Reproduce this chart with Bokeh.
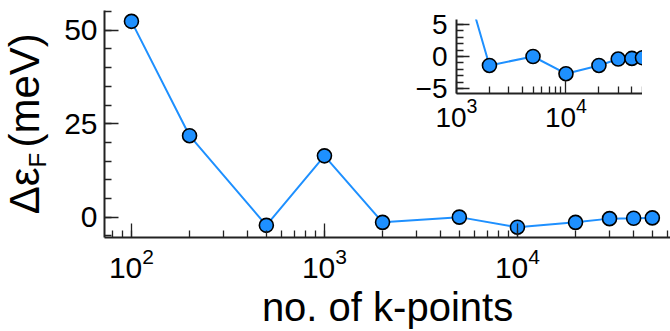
import math
from bokeh.plotting import figure
from bokeh.models import (LogTicker, SingleIntervalTicker, FixedTicker,
                          Range1d, LogTickFormatter)
from bokeh.core.properties import value
from bokeh.layouts import column
from bokeh.embed import file_html
from bokeh.resources import INLINE

# ---- data ----
kpoints = [100, 200, 500, 1000, 2000, 5000, 10000, 20000, 30000, 40000, 50000]
delta_ef = [52.4, 21.8, -2.2, 16.4, -1.4, 0.0, -2.7, -1.4, -0.4, -0.3, -0.2]
main_yticks_interval = 25
inset_yticks_interval = 5
inset_xticks = [1000, 10000]
inset_xminor = [2000, 3000, 4000, 5000, 6000, 7000, 8000, 9000,
                20000, 30000, 40000, 50000]
xlabel = "no. of k-points"
ylabel_main = "Δε"
ylabel_sub = "F"
ylabel_unit = "(meV)"

BLUE = "#1e90ff"
AXC = "#222222"
FONT = "Liberation Sans"
LEFT = 104   # common left border (frames are aligned in the column)


def style_axes(p, tick_size, major_in=14, minor_in=7):
    p.outline_line_color = None
    p.xgrid.grid_line_color = None
    p.ygrid.grid_line_color = None
    for ax in (p.xaxis[0], p.yaxis[0]):
        ax.axis_line_color = AXC
        ax.axis_line_width = 2
        ax.major_tick_line_color = AXC
        ax.minor_tick_line_color = AXC
        ax.major_tick_line_width = 1.3
        ax.minor_tick_line_width = 1.3
        ax.major_tick_in = major_in
        ax.major_tick_out = 0
        ax.minor_tick_in = minor_in
        ax.minor_tick_out = 0
        ax.major_label_text_font = FONT
        ax.major_label_text_font_size = tick_size
        ax.major_label_text_color = "black"
        ax.axis_label_text_font = FONT
        ax.axis_label_text_font_style = "normal"
        ax.axis_label_text_color = "black"


def draw(p):
    p.line(kpoints, delta_ef, line_color=BLUE, line_width=2)
    p.scatter(kpoints, delta_ef, size=14, fill_color=BLUE,
              line_color="black", line_width=1.6)


# ---- main plot ----
p = figure(width=670, height=331, x_axis_type="log",
           x_range=Range1d(72.5, 62100), y_range=Range1d(-5.45, 55.3),
           min_border_left=LEFT, min_border_right=0, min_border_top=10,
           min_border_bottom=93, output_backend="svg", toolbar_location=None)
style_axes(p, "30px")
p.xaxis.ticker = LogTicker(num_minor_ticks=10)
p.yaxis.ticker = SingleIntervalTicker(interval=main_yticks_interval, num_minor_ticks=5)
p.xaxis.axis_label = xlabel
p.xaxis.axis_label_text_font_size = "40px"
p.xaxis.axis_label_standoff = 4
p.xaxis.major_label_standoff = 10
p.yaxis.major_label_standoff = 7
draw(p)

# ---- overlay holding the y-axis label (frame covers canvas x 0..60) ----
lab = figure(width=LEFT + 60, height=331, x_range=Range1d(0, 60),
             y_range=Range1d(0, 331), min_border_left=LEFT, min_border_right=0,
             min_border_top=0, min_border_bottom=0, x_axis_location=None,
             y_axis_location=None, output_backend="svg", toolbar_location=None,
             margin=(-331, 0, 0, -LEFT))
lab.outline_line_color = None
lab.xgrid.grid_line_color = None
lab.ygrid.grid_line_color = None
lab.background_fill_alpha = 0
lab.border_fill_alpha = 0
common = dict(angle=math.pi / 2, text_font=value(FONT),
              text_baseline="alphabetic", text_color="black")
lab.text(x=[24], y=[164], text=[ylabel_main], text_align="right",
         text_font_size="42px", **common)
lab.text(x=[37], y=[164], text=[ylabel_sub], text_align="left",
         text_font_size="24px", **common)
lab.text(x=[24], y=[184], text=[ylabel_unit], text_align="left",
         text_font_size="42px", **common)

# ---- inset ----
ins = figure(width=LEFT + 186, height=143, x_axis_type="log",
             x_range=Range1d(1000, 50000), y_range=Range1d(-5.8, 5.8),
             min_border_left=LEFT, min_border_right=0, min_border_top=19,
             min_border_bottom=50, output_backend="svg", toolbar_location=None,
             margin=(-331, 0, 0, 456 - LEFT))
style_axes(ins, "28px", major_in=13, minor_in=7)
ins.background_fill_alpha = 0
ins.border_fill_alpha = 0
ins.xaxis.ticker = FixedTicker(ticks=inset_xticks, minor_ticks=inset_xminor)
ins.xaxis.formatter = LogTickFormatter()
ins.yaxis.ticker = SingleIntervalTicker(interval=inset_yticks_interval, num_minor_ticks=5)
ins.yaxis.major_label_overrides = {-5: "−5", 0: "0", 5: "5"}
ins.xaxis.major_label_standoff = 4
ins.yaxis.major_label_standoff = 9
draw(ins)

layout = column(p, lab, ins, spacing=0)
open("out.html", "w").write(file_html(layout, INLINE))
